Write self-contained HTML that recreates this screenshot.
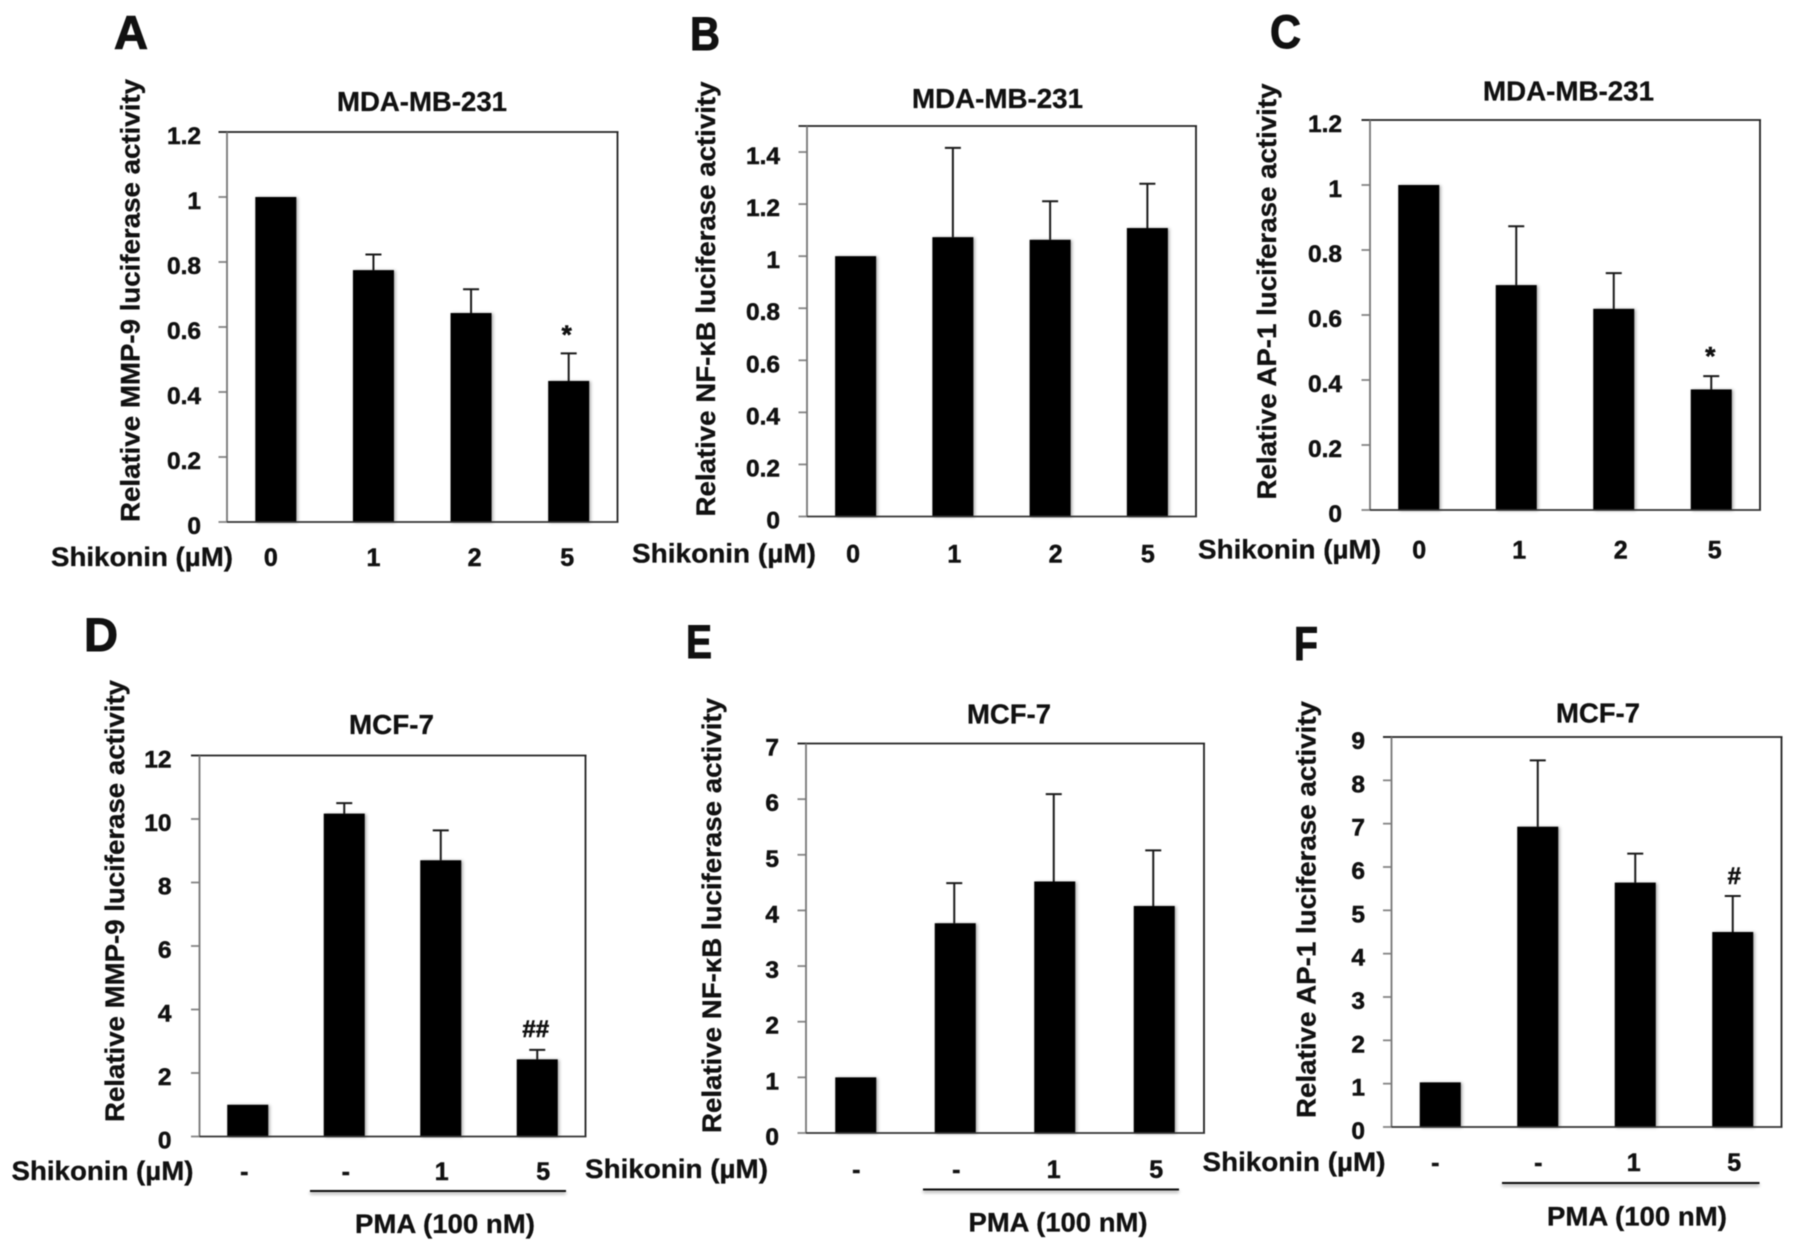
<!DOCTYPE html>
<html lang="en">
<head>
<meta charset="utf-8">
<title>Shikonin luciferase activity panels</title>
<style>
html,body{margin:0;padding:0;background:#fff;}
body{width:1795px;height:1252px;overflow:hidden;}
svg{display:block;filter:blur(0.45px);}
text{font-family:"Liberation Sans",sans-serif;font-weight:700;fill:#111;stroke:#111;stroke-width:0.3px;}
.letter{font-size:47px;stroke-width:1px;}
.title{font-size:28px;}
.ytitle{font-size:27px;}
.xname{font-size:27px;}
.pma{font-size:27px;}
.tick{font-size:24.5px;text-anchor:end;stroke-width:0.5px;}
.cat{font-size:25px;text-anchor:middle;stroke-width:0.5px;}
.note{text-anchor:middle;stroke-width:0.6px;}
</style>
</head>
<body>
<svg id="figure" xmlns="http://www.w3.org/2000/svg" width="1795" height="1252" viewBox="0 0 1795 1252">
  <defs>
    <filter id="bar-shadow" x="-20%" y="-10%" width="140%" height="120%">
      <feDropShadow dx="1.5" dy="0.5" stdDeviation="1.6" flood-color="#000" flood-opacity="0.35"/>
    </filter>
    <filter id="line-shadow" filterUnits="userSpaceOnUse" x="0" y="1170" width="1795" height="30">
      <feDropShadow dx="0" dy="2" stdDeviation="1.6" flood-color="#000" flood-opacity="0.4"/>
    </filter>
  </defs>
  <rect width="1795" height="1252" fill="#fff"/>

  <text class="letter" x="114" y="49" textLength="34" lengthAdjust="spacingAndGlyphs">A</text>
  <text class="letter" x="690" y="50" textLength="30" lengthAdjust="spacingAndGlyphs">B</text>
  <text class="letter" x="1270" y="48" textLength="31" lengthAdjust="spacingAndGlyphs">C</text>
  <text class="letter" x="84" y="651" textLength="34" lengthAdjust="spacingAndGlyphs">D</text>
  <text class="letter" x="686" y="658" textLength="26" lengthAdjust="spacingAndGlyphs">E</text>
  <text class="letter" x="1294" y="660" textLength="24" lengthAdjust="spacingAndGlyphs">F</text>

  <text class="title" x="337" y="111" textLength="170" lengthAdjust="spacingAndGlyphs">MDA-MB-231</text>
  <text class="title" x="912" y="108" textLength="171" lengthAdjust="spacingAndGlyphs">MDA-MB-231</text>
  <text class="title" x="1483" y="100.5" textLength="171" lengthAdjust="spacingAndGlyphs">MDA-MB-231</text>
  <text class="title" x="349" y="734" textLength="85" lengthAdjust="spacingAndGlyphs">MCF-7</text>
  <text class="title" x="967" y="723.5" textLength="84" lengthAdjust="spacingAndGlyphs">MCF-7</text>
  <text class="title" x="1556" y="722.5" textLength="84" lengthAdjust="spacingAndGlyphs">MCF-7</text>

  <text class="ytitle" transform="translate(139.5 522) rotate(-90)" textLength="443" lengthAdjust="spacingAndGlyphs">Relative MMP-9 luciferase activity</text>
  <text class="ytitle" transform="translate(715 516.5) rotate(-90)" textLength="435" lengthAdjust="spacingAndGlyphs">Relative NF-κB luciferase activity</text>
  <text class="ytitle" transform="translate(1276 499.5) rotate(-90)" textLength="416" lengthAdjust="spacingAndGlyphs">Relative AP-1 luciferase activity</text>
  <text class="ytitle" transform="translate(124 1122) rotate(-90)" textLength="442" lengthAdjust="spacingAndGlyphs">Relative MMP-9 luciferase activity</text>
  <text class="ytitle" transform="translate(721 1133) rotate(-90)" textLength="435" lengthAdjust="spacingAndGlyphs">Relative NF-κB luciferase activity</text>
  <text class="ytitle" transform="translate(1315.5 1118) rotate(-90)" textLength="417" lengthAdjust="spacingAndGlyphs">Relative AP-1 luciferase activity</text>

  <text class="xname" x="51" y="566" textLength="182" lengthAdjust="spacingAndGlyphs">Shikonin (µM)</text>
  <text class="xname" x="632" y="562.5" textLength="184" lengthAdjust="spacingAndGlyphs">Shikonin (µM)</text>
  <text class="xname" x="1198" y="558.5" textLength="183" lengthAdjust="spacingAndGlyphs">Shikonin (µM)</text>
  <text class="xname" x="11.5" y="1180" textLength="182" lengthAdjust="spacingAndGlyphs">Shikonin (µM)</text>
  <text class="xname" x="585" y="1178" textLength="183" lengthAdjust="spacingAndGlyphs">Shikonin (µM)</text>
  <text class="xname" x="1202.5" y="1171" textLength="183" lengthAdjust="spacingAndGlyphs">Shikonin (µM)</text>

  <rect x="310" y="1190" width="256" height="2" fill="#111" filter="url(#line-shadow)"/>
  <rect x="923" y="1188.5" width="256" height="2" fill="#111" filter="url(#line-shadow)"/>
  <rect x="1502" y="1182" width="257.5" height="2" fill="#111" filter="url(#line-shadow)"/>
  <text class="pma" x="355" y="1233" textLength="180" lengthAdjust="spacingAndGlyphs">PMA (100 nM)</text>
  <text class="pma" x="968.5" y="1231.5" textLength="179" lengthAdjust="spacingAndGlyphs">PMA (100 nM)</text>
  <text class="pma" x="1547" y="1225.5" textLength="180" lengthAdjust="spacingAndGlyphs">PMA (100 nM)</text>
</svg>

<script>
// Panel A: MMP-9, MDA-MB-231
const categoriesA = ['0', '1', '2', '5'];
const valuesA = [1.0, 0.775, 0.643, 0.434];
const errorsA = [0, 0.048, 0.073, 0.085];
const ticksA = ['0', '0.2', '0.4', '0.6', '0.8', '1', '1.2'];

// Panel B: NF-kB, MDA-MB-231
const categoriesB = ['0', '1', '2', '5'];
const valuesB = [1.0, 1.073, 1.063, 1.108];
const errorsB = [0, 0.343, 0.148, 0.17];
const ticksB = ['0', '0.2', '0.4', '0.6', '0.8', '1', '1.2', '1.4'];

// Panel C: AP-1, MDA-MB-231
const categoriesC = ['0', '1', '2', '5'];
const valuesC = [1.0, 0.692, 0.619, 0.371];
const errorsC = [0, 0.181, 0.11, 0.041];
const ticksC = ['0', '0.2', '0.4', '0.6', '0.8', '1', '1.2'];

// Panel D: MMP-9, MCF-7
const categoriesD = ['-', '-', '1', '5'];
const valuesD = [1.0, 10.17, 8.7, 2.43];
const errorsD = [0, 0.33, 0.94, 0.3];
const ticksD = ['0', '2', '4', '6', '8', '10', '12'];

// Panel E: NF-kB, MCF-7
const categoriesE = ['-', '-', '1', '5'];
const valuesE = [1.0, 3.77, 4.52, 4.08];
const errorsE = [0, 0.72, 1.57, 1.0];
const ticksE = ['0', '1', '2', '3', '4', '5', '6', '7'];

// Panel F: AP-1, MCF-7
const categoriesF = ['-', '-', '1', '5'];
const valuesF = [1.03, 6.93, 5.64, 4.5];
const errorsF = [0, 1.53, 0.67, 0.83];
const ticksF = ['0', '1', '2', '3', '4', '5', '6', '7', '8', '9'];

const NS = 'http://www.w3.org/2000/svg';
const figure = document.getElementById('figure');

function make(tag, attrs, parent) {
  const el = document.createElementNS(NS, tag);
  Object.keys(attrs).forEach(function (k) { el.setAttribute(k, attrs[k]); });
  parent.appendChild(el);
  return el;
}

function drawPanel(id, box, yMax, categories, values, errors, ticks, opts) {
  const group = make('g', {}, figure);
  
  

  const yScale = function (v) { return box.bottom - (v / yMax) * (box.bottom - box.top); };
  const step = (box.right - box.left) / categories.length;
  const xScale = function (i) { return box.left + step * (i + 0.5); };

  // y-axis ticks and tick labels
  ticks.forEach(function (label) {
    const y = yScale(parseFloat(label));
    const tick = make('line', { x1: box.left - 8.5, x2: box.left, y1: y, y2: y, stroke: '#858585', 'stroke-width': 1.8 }, group);
    
    
    const text = make('text', { class: 'tick', x: box.left - opts.tickGap, y: y + 12 }, group);
    text.textContent = label;
    
    
  });

  // bars and error bars
  values.forEach(function (v, i) {
    const cx = xScale(i);
    const top = yScale(v);
    if (errors[i] > 0) {
      const errTop = yScale(v + errors[i]);
      const stem = make('line', { x1: cx + opts.errDx, x2: cx + opts.errDx, y1: top, y2: errTop, stroke: '#1a1a1a', 'stroke-width': 2 }, group);
      
      
      const cap = make('line', { x1: cx + opts.errDx - 8, x2: cx + opts.errDx + 8, y1: errTop, y2: errTop, stroke: '#1a1a1a', 'stroke-width': 2 }, group);
      
      
    }
    const bar = make('rect', { x: cx - 20.5, y: top, width: 41, height: box.bottom - top, fill: '#000', filter: 'url(#bar-shadow)' }, group);
    
    

    const cat = make('text', { class: 'cat', x: cx + opts.labelShift[i], y: opts.catY }, group);
    cat.textContent = categories[i];
    
    
  });

  // frame
  const frameTop = make('line', { x1: box.left - 8.5, x2: box.right + 1, y1: box.top, y2: box.top, stroke: '#222', 'stroke-width': 1.8 }, group);
  
  
  const frameRight = make('line', { x1: box.right, x2: box.right, y1: box.top, y2: box.bottom, stroke: '#222', 'stroke-width': 1.8 }, group);
  
  
  const frameLeft = make('line', { x1: box.left, x2: box.left, y1: box.top, y2: box.bottom, stroke: '#777', 'stroke-width': 1.8 }, group);
  
  
  const frameBottom = make('line', { x1: box.left, x2: box.right + 1, y1: box.bottom, y2: box.bottom, stroke: '#333', 'stroke-width': 1.8 }, group);
  
  

  // significance marker above the last bar
  if (opts.note) {
    const last = values.length - 1;
    const noteY = yScale(values[last] + errors[last]) - opts.noteGap;
    const note = make('text', { class: 'note', x: xScale(last) + opts.noteDx, y: noteY, style: 'font-size:' + opts.noteSize + 'px' }, group);
    note.textContent = opts.note;
    
    
  }
}

drawPanel('a', { left: 227, right: 617.5, top: 132, bottom: 522 }, 1.2, categoriesA, valuesA, errorsA, ticksA,
  { tickGap: 26, catY: 566, labelShift: [-5, 0, 3.5, -1.5], errDx: 0, note: '*', noteGap: 10, noteDx: -2, noteSize: 26 });
drawPanel('b', { left: 807, right: 1196, top: 126, bottom: 516.5 }, 1.5, categoriesB, valuesB, errorsB, ticksB,
  { tickGap: 27, catY: 562.5, labelShift: [-2.5, 1.5, 5.5, 0.5], errDx: 0 });
drawPanel('c', { left: 1370, right: 1760, top: 120, bottom: 510 }, 1.2, categoriesC, valuesC, errorsC, ticksC,
  { tickGap: 28, catY: 558.5, labelShift: [0.5, 3, 7, 3.5], errDx: 0, note: '*', noteGap: 11, noteDx: -1, noteSize: 26 });
drawPanel('d', { left: 199.5, right: 585.5, top: 755.5, bottom: 1136.5 }, 12, categoriesD, valuesD, errorsD, ticksD,
  { tickGap: 28, catY: 1180, labelShift: [-3.5, 1.5, 1, 6], errDx: 0, note: '##', noteGap: 13, noteDx: -1.5, noteSize: 24 });
drawPanel('e', { left: 806, right: 1204, top: 743.5, bottom: 1133 }, 7, categoriesE, valuesE, errorsE, ticksE,
  { tickGap: 27, catY: 1178, labelShift: [0.5, 1, -1, 2], errDx: -1, note: '', noteGap: 0, noteDx: 0, noteSize: 24 });
drawPanel('f', { left: 1391.5, right: 1781.5, top: 737, bottom: 1127 }, 9, categoriesF, valuesF, errorsF, ticksF,
  { tickGap: 26.5, catY: 1171, labelShift: [-5, 0.5, -1.5, 1.5], errDx: 0, note: '#', noteGap: 12, noteDx: 1.5, noteSize: 24 });
</script>
</body>
</html>
